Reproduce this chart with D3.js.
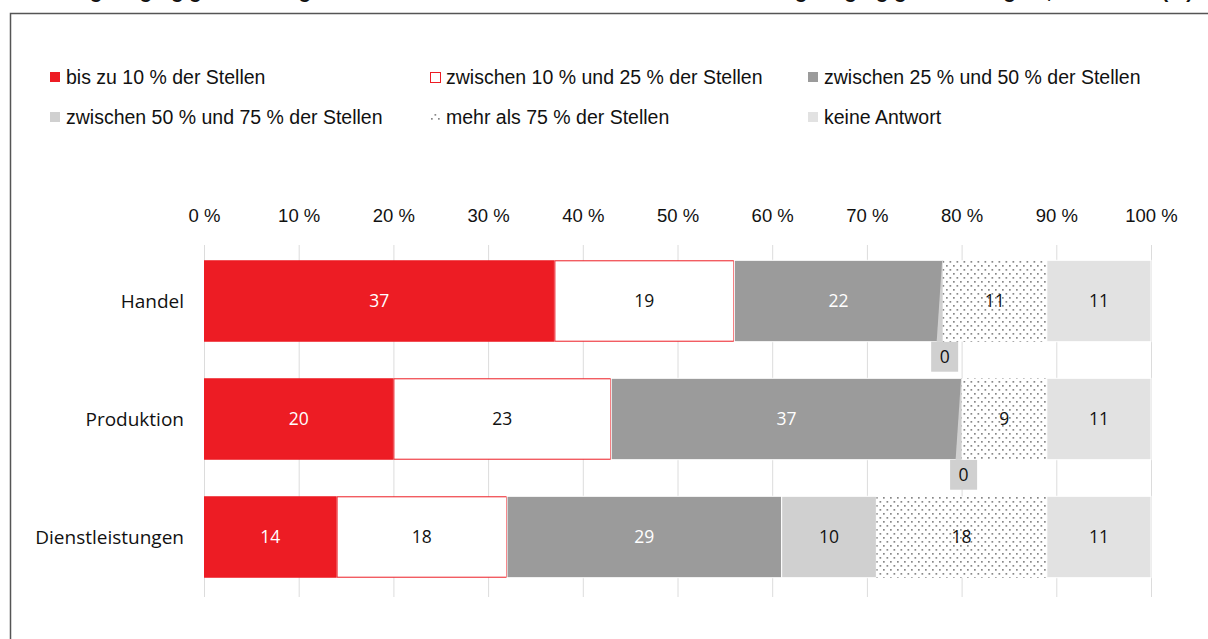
<!DOCTYPE html>
<html>
<head>
<meta charset="utf-8">
<script src="https://cdn.jsdelivr.net/npm/d3@7"></script>
<style>
  body { margin: 0; background: #fff; }
  .axis-label { font-family: "Liberation Sans", sans-serif; font-size: 18.5px; fill: #111; }
  .legend-text { font-family: "Liberation Sans", sans-serif; font-size: 19.5px; fill: #111; }
  .cat-label { font-family: "Open Sans", sans-serif; font-size: 19px; fill: #111; }
  .val-label { font-family: "Open Sans", sans-serif; font-size: 17.5px; }
</style>
</head>
<body>
<div id="chart"></div>
<script>
// categories and series (values in %)
const categories = ['Handel', 'Produktion', 'Dienstleistungen'];
const seriesNames = [
  'bis zu 10 % der Stellen',
  'zwischen 10 % und 25 % der Stellen',
  'zwischen 25 % und 50 % der Stellen',
  'zwischen 50 % und 75 % der Stellen',
  'mehr als 75 % der Stellen',
  'keine Antwort'
];
const bisZu10 = [37, 20, 14];
const zw10und25 = [19, 23, 18];
const zw25und50 = [22, 37, 29];
const zw50und75 = [0, 0, 10];
const mehrAls75 = [11, 9, 18];
const keineAntwort = [11, 11, 11];
const tickValues = [0, 10, 20, 30, 40, 50, 60, 70, 80, 90, 100];
const titleText = 'Anteil geringfügig Beschäftigter an allen Stellen nach Branche in Betrieben mit geringfügig Beschäftigten, in Prozent (%)';

const seriesValues = [bisZu10, zw10und25, zw25und50, zw50und75, mehrAls75, keineAntwort];

// visual style per series
const styles = [
  { fill: '#ED1C24', stroke: '#ED1C24', text: '#fff' },
  { fill: '#fff', stroke: '#ED1C24', text: '#111' },
  { fill: '#9B9B9B', stroke: '#fff', text: '#fff' },
  { fill: '#D0D0D0', stroke: '#fff', text: '#111' },
  { fill: 'url(#dots)', stroke: 'none', text: '#111' },
  { fill: '#E2E2E2', stroke: '#fff', text: '#111' }
];

const width = 1208, height = 639;

const svg = d3.select('#chart').append('svg')
  .attr('width', width)
  .attr('height', height);

// dotted pattern
const defs = svg.append('defs');
const pat = defs.append('pattern')
  .attr('id', 'dots')
  .attr('patternUnits', 'userSpaceOnUse')
  .attr('width', 7)
  .attr('height', 8);
pat.append('rect').attr('width', 7).attr('height', 8).attr('fill', '#fff');
pat.append('rect').attr('x', 1).attr('y', 1).attr('width', 1.7).attr('height', 1.7).attr('fill', '#888');
pat.append('rect').attr('x', 4.5).attr('y', 5).attr('width', 1.7).attr('height', 1.7).attr('fill', '#888');

// title sits above the visible area (only its descenders show, as in the source)
svg.append('text')
  .attr('x', 28)
  .attr('y', -2)
  .attr('textLength', 1165)
  .attr('lengthAdjust', 'spacingAndGlyphs')
  .attr('font-family', '"Liberation Sans", sans-serif')
  .attr('font-weight', 700)
  .attr('font-size', 21)
  .attr('fill', '#111')
  .text(titleText);

svg.append('path')
  .attr('d', `M10.5,${height} V13.5 H${width}`)
  .attr('fill', 'none')
  .attr('stroke', '#555')
  .attr('stroke-width', 1.5);

// scales
const x = d3.scaleLinear().domain([0, 100]).range([204, 1151]);
const y = d3.scaleBand().domain(categories).range([242, 596]).paddingInner(0.31).paddingOuter(0.155);

// gridlines
svg.append('g')
  .selectAll('line')
  .data(tickValues)
  .join('line')
    .attr('x1', d => x(d) + 0.5)
    .attr('x2', d => x(d) + 0.5)
    .attr('y1', 245)
    .attr('y2', 597)
    .attr('stroke', '#DCDCDC')
    .attr('stroke-width', 1);

// top axis labels
const xAxis = d3.axisTop(x).tickValues(tickValues).tickFormat(d => `${d} %`).tickSize(0).tickPadding(0);
const xAxisG = svg.append('g')
  .attr('transform', 'translate(0,222)')
  .call(xAxis);
xAxisG.select('.domain').remove();
xAxisG.selectAll('text').attr('class', 'axis-label').attr('fill', null);

// category labels
const yAxis = d3.axisLeft(y).tickSize(0).tickPadding(20);
const yAxisG = svg.append('g')
  .attr('transform', `translate(${x(0)},0)`)
  .call(yAxis);
yAxisG.select('.domain').remove();
yAxisG.selectAll('text').attr('class', 'cat-label').attr('fill', null).attr('dy', '0.35em');

// stacked data
const rows = categories.map((c, i) => {
  const row = { category: c };
  seriesNames.forEach((s, j) => { row[s] = seriesValues[j][i]; });
  return row;
});
const stack = d3.stack().keys(seriesNames)(rows);

const layers = svg.append('g')
  .selectAll('g')
  .data(stack)
  .join('g');

layers.each(function(layer, j) {
  const g = d3.select(this);
  const st = styles[j];
  const inset = st.stroke === '#ED1C24' ? 0.5 : 0;
  g.selectAll('rect')
    .data(layer.filter(d => d[1] - d[0] > 0))
    .join('rect')
      .attr('x', d => x(d[0]) + inset)
      .attr('y', d => y(d.data.category) + inset)
      .attr('width', d => x(d[1]) - x(d[0]) - 2 * inset)
      .attr('height', y.bandwidth() - 2 * inset)
      .attr('fill', st.fill)
      .attr('stroke', st.stroke)
      .attr('stroke-width', 1);
});

// value labels
layers.each(function(layer, j) {
  const g = d3.select(this);
  const st = styles[j];
  const nonZero = layer.filter(d => d[1] - d[0] > 0);
  g.selectAll('text')
    .data(nonZero)
    .join('text')
      .attr('class', 'val-label')
      .attr('x', d => x((d[0] + d[1]) / 2))
      .attr('y', d => y(d.data.category) + y.bandwidth() / 2)
      .attr('dy', '0.36em')
      .attr('text-anchor', 'middle')
      .attr('fill', st.text)
      .text(d => d[1] - d[0]);

  // zero values get a callout below the bar
  const zeros = layer.filter(d => d[1] - d[0] === 0);
  const callout = g.selectAll('g.callout')
    .data(zeros)
    .join('g')
      .attr('class', 'callout');
  const boxW = 27, boxH = 30;
  callout.append('path')
    .attr('d', d => {
      const x0 = x(d[0]);
      const top = y(d.data.category);
      const bottom = top + y.bandwidth();
      return `M${x0 - 0.5},${top} L${x0 + 1},${top} L${x0 + 0.5},${bottom} L${x0 - 6},${bottom} Z`;
    })
    .attr('fill', '#D0D0D0');
  callout.append('rect')
    .attr('x', d => x(d[0]) + 2 - boxW / 2)
    .attr('y', d => y(d.data.category) + y.bandwidth())
    .attr('width', boxW)
    .attr('height', boxH)
    .attr('fill', '#D0D0D0');
  callout.append('text')
    .attr('class', 'val-label')
    .attr('x', d => x(d[0]) + 2)
    .attr('y', d => y(d.data.category) + y.bandwidth() + boxH / 2)
    .attr('dy', '0.36em')
    .attr('text-anchor', 'middle')
    .attr('fill', '#111')
    .text(0);
});

// legend
const legendPos = [
  { x: 50, y: 77 }, { x: 430, y: 77 }, { x: 808, y: 77 },
  { x: 50, y: 117 }, { x: 430, y: 117 }, { x: 808, y: 117 }
];
const legend = svg.append('g')
  .selectAll('g')
  .data(seriesNames)
  .join('g')
    .attr('transform', (d, i) => `translate(${legendPos[i].x},${legendPos[i].y})`);

legend.append('rect')
  .attr('x', (d, i) => i === 1 ? 0.5 : 0)
  .attr('y', (d, i) => i === 1 ? -4.5 : -5)
  .attr('width', 10)
  .attr('height', 10)
  .attr('fill', (d, i) => styles[i].fill)
  .attr('stroke', (d, i) => i === 1 ? '#ED1C24' : 'none')
  .attr('stroke-width', 1);

legend.append('text')
  .attr('class', 'legend-text')
  .attr('x', 16)
  .attr('dy', '0.35em')
  .text(d => d);
</script>
</body>
</html>
